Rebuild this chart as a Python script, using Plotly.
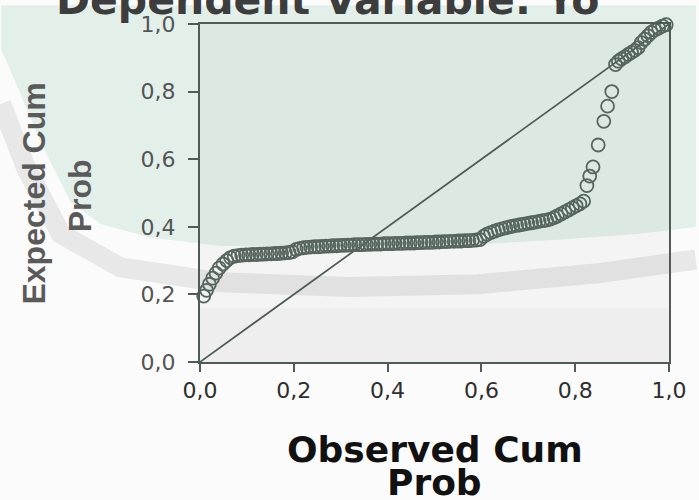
import plotly.graph_objects as go

# ---------------- data ----------------
obs_a = [0.008, 0.014, 0.020, 0.027, 0.034, 0.041, 0.049, 0.057, 0.065]
exp_a = [0.195, 0.212, 0.230, 0.248, 0.263, 0.278, 0.290, 0.300, 0.309]

obs_b = [0.073, 0.081, 0.089, 0.097, 0.104, 0.112, 0.120, 0.128, 0.135, 0.143,
         0.151, 0.159, 0.166, 0.174, 0.182, 0.190, 0.197]
exp_b = [0.313, 0.315, 0.316, 0.317, 0.317, 0.318, 0.318, 0.319, 0.319, 0.320,
         0.320, 0.321, 0.321, 0.322, 0.323, 0.324, 0.326]

obs_c = [0.205, 0.213, 0.221, 0.228, 0.236, 0.244, 0.252, 0.260, 0.268, 0.275,
         0.283, 0.291, 0.299, 0.307, 0.315, 0.322, 0.330, 0.338, 0.346, 0.354,
         0.362, 0.369, 0.377, 0.385, 0.393, 0.401, 0.409, 0.416, 0.424, 0.432,
         0.440, 0.448, 0.456, 0.463, 0.471, 0.479, 0.487, 0.495, 0.503, 0.510,
         0.518, 0.526, 0.534, 0.542, 0.550, 0.557, 0.565, 0.573, 0.581, 0.589,
         0.597]
exp_c = [0.333, 0.336, 0.338, 0.339, 0.340, 0.341, 0.341, 0.342, 0.343, 0.343,
         0.344, 0.344, 0.345, 0.345, 0.346, 0.346, 0.347, 0.347, 0.347, 0.348,
         0.348, 0.349, 0.349, 0.349, 0.350, 0.350, 0.350, 0.351, 0.351, 0.351,
         0.352, 0.352, 0.352, 0.353, 0.353, 0.354, 0.354, 0.354, 0.355, 0.355,
         0.356, 0.356, 0.357, 0.357, 0.358, 0.358, 0.359, 0.359, 0.360, 0.361,
         0.362]

obs_d = [0.605, 0.612, 0.620, 0.628, 0.636, 0.644, 0.652, 0.660, 0.667, 0.675,
         0.683, 0.691, 0.699, 0.707, 0.715, 0.723, 0.731, 0.739, 0.747, 0.755]
exp_d = [0.372, 0.378, 0.383, 0.387, 0.391, 0.394, 0.397, 0.400, 0.402, 0.404,
         0.406, 0.408, 0.410, 0.412, 0.414, 0.416, 0.418, 0.420, 0.423, 0.427]

obs_e = [0.762, 0.770, 0.778, 0.786, 0.794, 0.802, 0.810, 0.818]
exp_e = [0.432, 0.438, 0.444, 0.450, 0.456, 0.462, 0.468, 0.476]

obs_f = [0.825, 0.831, 0.838, 0.849, 0.861, 0.869, 0.878]
exp_f = [0.522, 0.550, 0.577, 0.642, 0.712, 0.757, 0.800]

obs_g = [0.886, 0.892, 0.899, 0.906, 0.913, 0.920, 0.927, 0.934]
exp_g = [0.880, 0.890, 0.897, 0.903, 0.910, 0.916, 0.922, 0.930]

obs_h = [0.941, 0.948, 0.955, 0.962, 0.970, 0.978, 0.986, 0.994]
exp_h = [0.945, 0.955, 0.965, 0.975, 0.982, 0.988, 0.994, 0.998]

diag_x = [0.0, 1.0]
diag_y = [0.0, 1.0]

tick_values = [0.0, 0.2, 0.4, 0.6, 0.8, 1.0]
tick_labels = ["0,0", "0,2", "0,4", "0,6", "0,8", "1,0"]

title_text = "Dependent Variable: Yo"
x_title_lines = ["Observed Cum", "Prob"]
y_title_lines = ["Expected Cum", "Prob"]

observed = obs_a + obs_b + obs_c + obs_d + obs_e + obs_f + obs_g + obs_h
expected = exp_a + exp_b + exp_c + exp_d + exp_e + exp_f + exp_g + exp_h

# ---------------- layout geometry ----------------
W, H = 699, 500
L, R, T, B = 200, 27, 19, 138
PW, PH = W - L - R, H - T - B


def fx(p):
    return (p - L) / PW


def fy(p):
    return (H - B - p) / PH


def path_from(pts, close=True):
    s = "M " + " L ".join(f"{fx(a):.4f},{fy(b):.4f}" for a, b in pts)
    return s + (" Z" if close else "")


mint_pts = [(0, 0), (W, 0), (W, 225), (640, 232), (560, 238), (450, 244),
            (330, 246), (220, 244), (150, 236), (100, 222), (70, 200),
            (40, 140), (15, 80), (0, 45)]
stripe_pts = [(0, 100), (25, 165), (60, 232), (120, 266), (220, 281),
              (350, 286), (480, 283), (600, 272), (W, 258)]

shapes = [
    dict(type="path", xref="paper", yref="paper", path=path_from(mint_pts),
         fillcolor="#e3f0ea", line=dict(width=0), layer="below"),
    dict(type="path", xref="paper", yref="paper",
         path=path_from(stripe_pts, close=False),
         line=dict(color="#e8e8e8", width=20), layer="below"),
    dict(type="rect", xref="paper", yref="paper", x0=0, x1=1,
         y0=fy(307), y1=fy(T), fillcolor="rgba(0,20,10,0.03)",
         line=dict(width=0), layer="below"),
    dict(type="rect", xref="paper", yref="paper", x0=0, x1=1,
         y0=0, y1=fy(307), fillcolor="#eeeeee",
         line=dict(width=0), layer="below"),
]

fig = go.Figure()
fig.add_trace(go.Scatter(
    x=diag_x, y=diag_y, mode="lines",
    line=dict(color="#4c5a55", width=1.7), hoverinfo="skip", showlegend=False))
fig.add_trace(go.Scatter(
    x=observed, y=expected, mode="markers", cliponaxis=False,
    marker=dict(symbol="circle-open", size=13, color="#56665f",
                line=dict(width=1.8, color="#56665f")),
    showlegend=False))

axis_common = dict(range=[0, 1], tickvals=tick_values, ticktext=tick_labels,
                   showgrid=False, zeroline=False, showline=True,
                   linecolor="#4f5b57", linewidth=2, mirror=True,
                   ticks="outside", tickcolor="#4f5b57", tickwidth=2)

fig.update_layout(
    width=W, height=H,
    margin=dict(l=L, r=R, t=T, b=B, pad=0),
    paper_bgcolor="#fbfbfb",
    plot_bgcolor="rgba(0,0,0,0)",
    shapes=shapes,
    xaxis=dict(**axis_common, ticklen=8,
               tickfont=dict(family="DejaVu Sans", size=22, color="#2e2e2e")),
    yaxis=dict(**axis_common, ticklen=10, ticklabelstandoff=8,
               tickfont=dict(family="DejaVu Sans", size=22, color="#555555")),
    annotations=[
        dict(text=title_text, xref="paper", yref="paper", x=fx(328),
             y=fy(-5), xanchor="center", yanchor="middle", showarrow=False,
             font=dict(family="DejaVu Sans", size=41, color="#3d3d3d",
                       weight="bold")),
        dict(text=x_title_lines[0], xref="paper", yref="paper", x=fx(436),
             y=fy(451), xanchor="center", yanchor="middle", showarrow=False,
             font=dict(family="DejaVu Sans", size=36, color="#111111",
                       weight="bold")),
        dict(text=x_title_lines[1], xref="paper", yref="paper", x=fx(436),
             y=fy(484), xanchor="center", yanchor="middle", showarrow=False,
             font=dict(family="DejaVu Sans", size=36, color="#111111",
                       weight="bold")),
        dict(text=y_title_lines[0], xref="paper", yref="paper", x=fx(33),
             y=fy(191), xanchor="center", yanchor="middle", textangle=-90,
             showarrow=False,
             font=dict(family="Liberation Sans", size=32, color="#5a5a5a",
                       weight="bold")),
        dict(text=y_title_lines[1], xref="paper", yref="paper", x=fx(80),
             y=fy(193), xanchor="center", yanchor="middle", textangle=-90,
             showarrow=False,
             font=dict(family="Liberation Sans", size=32, color="#5a5a5a",
                       weight="bold")),
    ],
)

fig.write_html("out.html")
